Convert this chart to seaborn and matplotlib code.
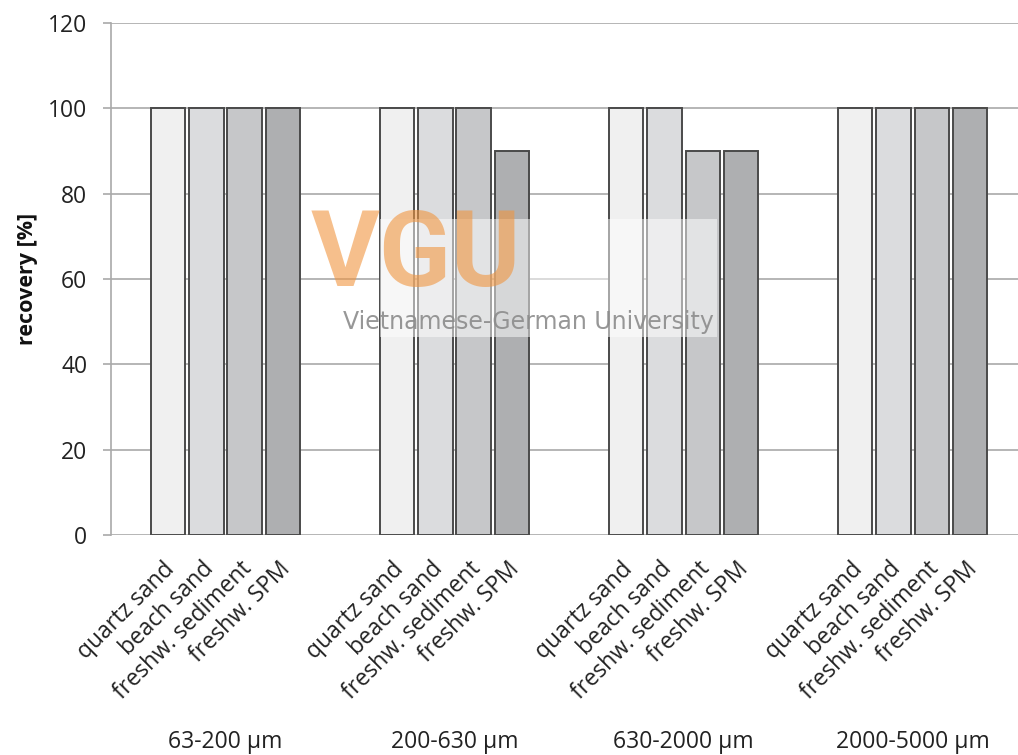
import matplotlib
matplotlib.use("Agg")
import matplotlib.pyplot as plt
import matplotlib.transforms as mtransforms
from matplotlib.patches import Rectangle
import seaborn as sns
import pandas as pd

# ---- data ----
size_classes = ["63-200 µm", "200-630 µm", "630-2000 µm", "2000-5000 µm"]
materials = ["quartz sand", "beach sand", "freshw. sediment", "freshw. SPM"]
quartz_sand = [100, 100, 100, 100]
beach_sand = [100, 100, 100, 100]
freshw_sediment = [100, 100, 90, 100]
freshw_spm = [100, 90, 90, 100]
y_ticks = [0, 20, 40, 60, 80, 100, 120]

series = [quartz_sand, beach_sand, freshw_sediment, freshw_spm]
rows = []
for m, vals in zip(materials, series):
    for s, v in zip(size_classes, vals):
        rows.append({"size": s, "material": m, "recovery": v})
df = pd.DataFrame(rows)

sns.set_style("white")
plt.rcParams["font.family"] = ["Open Sans", "DejaVu Sans"]

W, H = 1018, 755
fig = plt.figure(figsize=(W / 100, H / 100), dpi=100)
ax = fig.add_axes([111 / W, 220 / H, (W - 111) / W, 512 / H])

palette = ["#f0f0f0", "#dbdcde", "#c5c7c9", "#adafb1"]
sns.barplot(data=df, x="size", y="recovery", hue="material",
            order=size_classes, hue_order=materials, palette=palette,
            edgecolor="#4a4a4a", linewidth=1.4, width=0.67, gap=0.1,
            legend=False, ax=ax, zorder=3)

ax.set_ylim(0, 120)
ax.set_xlim(-0.5, 3.46)
ax.set_yticks(y_ticks)
ax.yaxis.grid(True, color="#a9a9a9", linewidth=1.2, zorder=0)
ax.set_axisbelow(True)
for side in ["top", "right", "bottom"]:
    ax.spines[side].set_visible(False)
ax.spines["left"].set_color("#a9a9a9")
ax.spines["left"].set_linewidth(1.2)
ax.tick_params(axis="y", length=6, width=1.2, color="#a9a9a9", pad=11,
               labelsize=16.5, labelcolor="#222222", left=True)

# per-bar tick labels
centers = sorted(p.get_x() + p.get_width() / 2 for p in ax.patches if p.get_height() > 0)
ax.set_xticks(centers)
ax.set_xticklabels(materials * len(size_classes))
ax.tick_params(axis="x", length=0, pad=16, labelsize=16.5, labelcolor="#222222")
for lbl in ax.get_xticklabels():
    lbl.set_rotation(45)
    lbl.set_ha("right")
    lbl.set_va("top")
    lbl.set_rotation_mode("anchor")
    lbl.set_transform(lbl.get_transform() + mtransforms.ScaledTranslation(-5 / 100, 0, fig.dpi_scale_trans))

ax.set_xlabel("")
ax.set_ylabel("recovery [%]", fontsize=15.5, fontweight="bold", color="#111111", labelpad=7)

trans = mtransforms.blended_transform_factory(ax.transData, ax.transAxes)
for i, s in enumerate(size_classes):
    ax.text(i, -0.404, s, transform=trans, ha="center", va="center",
            fontsize=16.5, color="#222222")

# watermark
fig.patches.append(Rectangle((380 / W, 1 - 337 / H), (717 - 380) / W, (337 - 219) / H,
                             transform=fig.transFigure, facecolor="white", alpha=0.5,
                             edgecolor="none", zorder=5))
fig.text(416 / W, 1 - 257 / H, "VGU", ha="center", va="center", fontsize=76,
         fontweight="bold", color="#f0953f", alpha=0.6, family="Roboto", zorder=6)
fig.text(528 / W, 1 - 322 / H, "Vietnamese-German University", ha="center", va="center",
         fontsize=17, color="#8c8c8c", alpha=0.9, family="DejaVu Sans", zorder=6)

fig.savefig("out.png", dpi=100)
